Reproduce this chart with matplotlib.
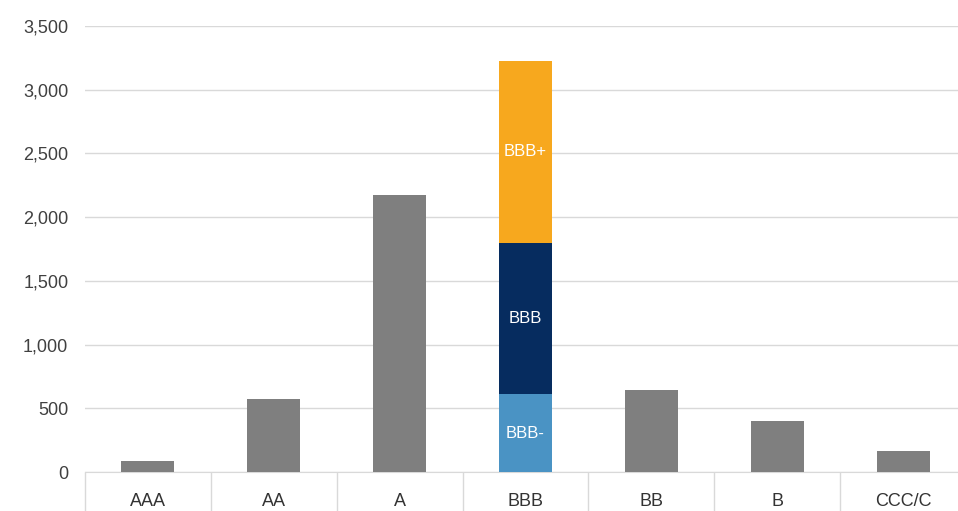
import numpy as np
import matplotlib
matplotlib.use("Agg")
from matplotlib import pyplot as plt
from matplotlib.ticker import FuncFormatter

plt.rcParams['font.family'] = ['Liberation Sans', 'DejaVu Sans']

categories = ["AAA", "AA", "A", "BBB", "BB", "B", "CCC/C"]
totals = [85, 575, 2175, 0, 645, 400, 165]
bbb_parts = ["BBB-", "BBB", "BBB+"]
bbb_values = [610, 1190, 1425]
bbb_colors = ["#4a93c4", "#062c5f", "#f7a81e"]

fig = plt.figure(figsize=(9.58, 5.11), dpi=100)
# axes runs a little past the right edge, as in the source
ax = fig.add_axes([85 / 958, 39 / 511, 881 / 958, 446 / 511])

x = np.arange(len(categories))
width = 0.42
ax.bar(x, totals, width, color="#7f7f7f", zorder=3)

i = categories.index("BBB")
bottom = 0
for name, val, col in zip(bbb_parts, bbb_values, bbb_colors):
    ax.bar(i, val, width, bottom=bottom, color=col, zorder=3)
    ax.text(i, bottom + val / 2, name, ha="center", va="center",
            color="white", fontsize=12, zorder=4)
    bottom += val

ax.set_ylim(0, 3500)
ax.set_xlim(-0.5, len(categories) - 0.5)
ax.set_yticks(np.arange(0, 3501, 500))
ax.yaxis.set_major_formatter(FuncFormatter(lambda v, p: f"{int(v):,}"))
ax.grid(axis="y", color="#d9d9d9", linewidth=1, zorder=0)

for s in ["top", "right", "left"]:
    ax.spines[s].set_visible(False)
ax.spines["bottom"].set_color("#d9d9d9")

# separators below the axis as major ticks, labels on minor ticks
ax.set_xticks(np.arange(-0.5, len(categories), 1.0))
ax.set_xticklabels([])
ax.tick_params(axis="x", which="major", length=29, color="#d9d9d9", width=1)
ax.set_xticks(x, minor=True)
ax.set_xticklabels(categories, minor=True)
ax.tick_params(axis="x", which="minor", length=0, pad=15, labelsize=13,
               labelcolor="#333333")
ax.tick_params(axis="y", length=0, pad=12, labelsize=13, labelcolor="#404040")

fig.savefig("out.png", dpi=100)
